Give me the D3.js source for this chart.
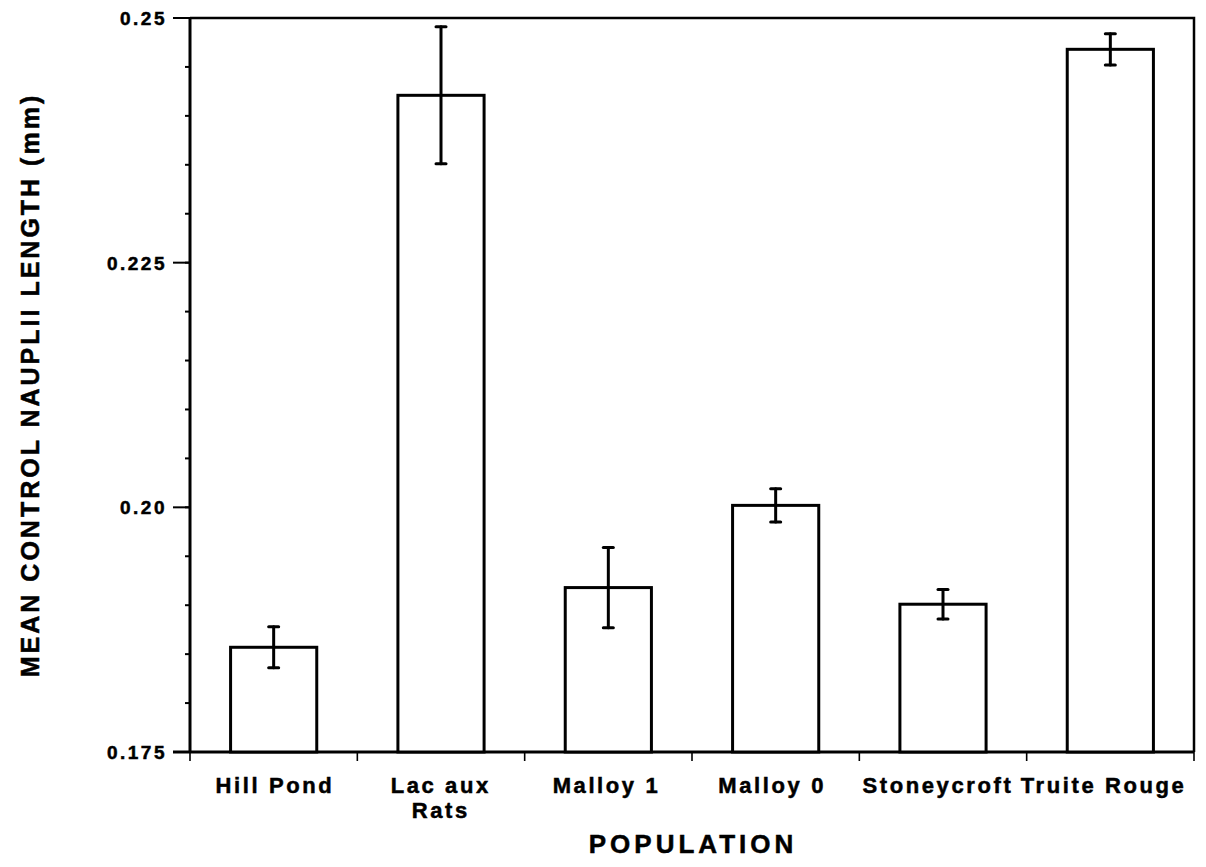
<!DOCTYPE html>
<html>
<head>
<meta charset="utf-8">
<script src="https://cdn.jsdelivr.net/npm/d3@7"></script>
<style>
  html, body { margin: 0; padding: 0; background: #fff; }
  svg { display: block; }
  text { font-family: "Liberation Sans", Arial, Helvetica, sans-serif; font-weight: bold; fill: #000; stroke: #000; stroke-width: 0.5px; }
</style>
</head>
<body>
<svg id="chart" width="1206" height="867"></svg>
<script>
// Mean control nauplii length by population, with error bars
const populations = ["Hill Pond", "Lac aux\nRats", "Malloy 1", "Malloy 0", "Stoneycroft", "Truite Rouge"];
const meanLength  = [0.1857, 0.2421, 0.1918, 0.2002, 0.1901, 0.2468];
const errorLength = [0.0021, 0.0070, 0.0041, 0.0017, 0.0015, 0.0016];
const yTicks      = [0.175, 0.20, 0.225, 0.25];
const yTickLabels = ["0.175", "0.20", "0.225", "0.25"];

const svg = d3.select("#chart");
const m = { left: 190, right: 1194, top: 18, bottom: 752 };

const x = d3.scaleBand().domain(populations).range([m.left, m.right]).paddingInner(0.485).paddingOuter(0.2425);
const xEdges = d3.scaleLinear().domain([0, populations.length]).range([m.left, m.right]);
const y = d3.scaleLinear().domain([0.175, 0.25]).range([m.bottom, m.top]);

const ink = "#000";

// Frame: top and right borders
svg.append("path")
  .attr("d", `M${m.left},${m.top}H${m.right}V${m.bottom}`)
  .attr("fill", "none").attr("stroke", ink).attr("stroke-width", 2.5);

// Y axis: major labelled ticks plus minor ticks every 0.005
const yMinor = d3.range(0, 16).map(i => 0.175 + i * 0.005);
const yAxis = svg.append("g").attr("transform", `translate(${m.left},0)`);
yAxis.selectAll("line.minor").data(yMinor).join("line")
  .attr("x1", -5).attr("x2", 0)
  .attr("y1", d => y(d)).attr("y2", d => y(d))
  .attr("stroke", ink).attr("stroke-width", 2);
yAxis.selectAll("line.major").data(yTicks).join("line")
  .attr("x1", -17).attr("x2", 0)
  .attr("y1", d => y(d)).attr("y2", d => y(d))
  .attr("stroke", ink).attr("stroke-width", 2);
yAxis.selectAll("text").data(yTicks).join("text")
  .attr("x", -23).attr("y", d => y(d)).attr("dy", "0.36em")
  .attr("text-anchor", "end").attr("font-size", 19).attr("letter-spacing", 2.5)
  .text((d, i) => yTickLabels[i]);
yAxis.append("line")
  .attr("x1", 0).attr("x2", 0).attr("y1", m.top).attr("y2", m.bottom)
  .attr("stroke", ink).attr("stroke-width", 3);

// X axis baseline and category boundary ticks
svg.append("line")
  .attr("x1", m.left - 17).attr("x2", m.right)
  .attr("y1", m.bottom).attr("y2", m.bottom)
  .attr("stroke", ink).attr("stroke-width", 3);
svg.selectAll("line.xtick").data(d3.range(0, populations.length + 1)).join("line")
  .attr("class", "xtick")
  .attr("x1", d => xEdges(d)).attr("x2", d => xEdges(d))
  .attr("y1", m.bottom).attr("y2", m.bottom + 9)
  .attr("stroke", ink).attr("stroke-width", 1.6);

// Bars
svg.selectAll("rect.bar").data(populations).join("rect")
  .attr("class", "bar")
  .attr("x", d => x(d)).attr("width", x.bandwidth())
  .attr("y", (d, i) => y(meanLength[i]))
  .attr("height", (d, i) => y(0.175) - y(meanLength[i]))
  .attr("fill", "#fff").attr("stroke", ink).attr("stroke-width", 3);

// Error bars
const eb = svg.append("g").attr("stroke", ink).attr("stroke-width", 3).attr("stroke-linecap", "round");
populations.forEach((p, i) => {
  const cx = x(p) + x.bandwidth() / 2;
  const hi = y(meanLength[i] + errorLength[i]);
  const lo = y(meanLength[i] - errorLength[i]);
  eb.append("line").attr("x1", cx).attr("x2", cx).attr("y1", hi).attr("y2", lo);
  eb.append("line").attr("x1", cx - 5).attr("x2", cx + 5).attr("y1", hi).attr("y2", hi);
  eb.append("line").attr("x1", cx - 5).attr("x2", cx + 5).attr("y1", lo).attr("y2", lo);
});

// Category labels (drift slightly left across the axis so the long names keep a gap)
const catSpacing = 2.6;
svg.selectAll("text.cat").data(populations).join("text")
  .attr("class", "cat")
  .attr("y", 793)
  .attr("text-anchor", "middle").attr("font-size", 22).attr("letter-spacing", catSpacing)
  .each(function(d, i) {
    const cx = x(d) + x.bandwidth() / 2 + catSpacing / 2 - i * 1.6;
    const lines = d.split("\n");
    d3.select(this).selectAll("tspan").data(lines).join("tspan")
      .attr("x", cx)
      .attr("dy", (l, j) => j === 0 ? 0 : 25)
      .text(l => l);
  });

// Axis titles
svg.append("text")
  .attr("x", 693).attr("y", 853)
  .attr("text-anchor", "middle").attr("font-size", 26).attr("letter-spacing", 4)
  .text("POPULATION");
svg.append("text")
  .attr("transform", `translate(39,385) rotate(-90)`)
  .attr("text-anchor", "middle").attr("font-size", 25).attr("letter-spacing", 3)
  .text("MEAN CONTROL NAUPLII LENGTH (mm)");
</script>
</body>
</html>
